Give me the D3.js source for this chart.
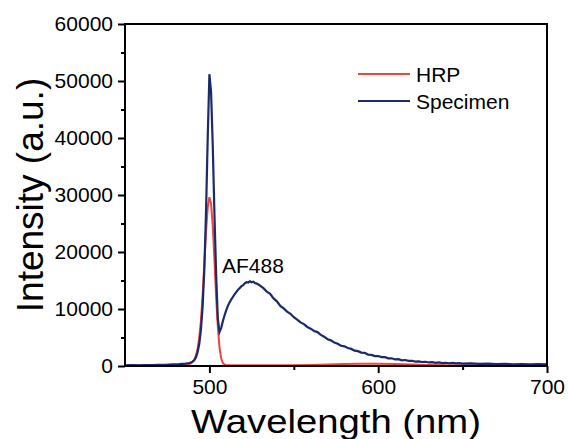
<!DOCTYPE html>
<html>
<head>
<meta charset="utf-8">
<script src="https://cdn.jsdelivr.net/npm/d3@7"></script>
<style>
  body { margin: 0; background: #fff; }
  text { font-family: "Liberation Sans", Arial, sans-serif; fill: #000; }
</style>
</head>
<body>
<div id="chart"></div>
<script>
// wavelength (nm) and intensity (a.u.)
var specWl = [450, 454, 458, 462, 466, 470, 474, 478, 482, 486,
  488, 489, 490, 491, 492, 493, 494, 495, 496, 497, 498, 499, 500, 501, 502, 503, 504, 505, 506, 507, 508, 509,
  510, 511, 512, 513, 514, 515, 516, 517, 518, 519, 520, 521, 522, 523, 524, 525, 526, 527, 528, 529, 530,
  532, 534, 536, 538, 540, 542, 544, 546, 548, 550, 552, 554, 556, 558, 560, 562, 564, 566, 568, 570,
  572, 574, 576, 578, 580, 582, 584, 586, 588, 590, 592, 594, 596, 598, 600, 602, 604, 606, 608, 610,
  612, 614, 616, 618, 620, 622, 624, 626, 628, 630, 632, 634, 636, 638, 640, 642, 644, 646, 648, 650,
  655, 660, 665, 670, 675, 680, 685, 690, 695, 700];
var specVal = [120, 150, 130, 160, 170, 200, 220, 270, 330, 430,
  520, 620, 760, 1000, 1500, 2400, 3900, 6400, 10500, 17000, 27000, 40000, 51200, 48000, 38500, 26500, 16000, 8200, 6000, 6700, 7900, 8900,
  9800, 10600, 11200, 11700, 12150, 12600, 13000, 13400, 13700, 14000, 14200, 14500, 14700, 14650, 14850, 14700, 14800, 14550, 14450, 14300, 14100,
  13650, 13050, 12650, 11850, 11350, 10550, 10100, 9550, 9150, 8550, 8150, 7650, 7350, 6850, 6550, 6150, 5950, 5450, 5150, 4700,
  4500, 4100, 3900, 3550, 3450, 3150, 3000, 2700, 2600, 2350, 2300, 2000, 1950, 1750, 1750, 1550, 1550, 1350, 1350, 1150,
  1200, 1000, 1050, 900, 920, 780, 820, 700, 740, 620, 680, 560, 620, 520, 570, 480, 540, 450, 500, 430,
  470, 380, 420, 340, 380, 310, 350, 290, 330, 280];

var hrpWl = [450, 460, 470, 480, 486, 488, 489, 490, 491, 492, 493, 494, 495, 496, 497, 498, 499, 500,
  501, 502, 503, 504, 505, 506, 507, 508, 509, 510, 515, 520, 530, 540, 550, 560, 570, 580, 590, 600,
  610, 620, 630, 640, 650, 660, 680, 700];
var hrpVal = [80, 90, 100, 120, 200, 300, 450, 700, 1100, 1800, 3000, 5000, 8000, 12500, 18000, 23500, 27800, 29600,
  28500, 24500, 18500, 12000, 6800, 3200, 1300, 500, 250, 170, 130, 120, 110, 120, 130, 180, 250, 330, 380, 380,
  330, 260, 180, 130, 100, 90, 80, 80];

var xMajor = [500, 600, 700];
var xMinor = [550, 650];
var yMajor = [0, 10000, 20000, 30000, 40000, 50000, 60000];
var yMinor = [5000, 15000, 25000, 35000, 45000, 55000];

var seriesNames = ["HRP", "Specimen"];
var seriesColors = ["#f2443c", "#1b2a68"];

var width = 568, height = 439;
var margin = {top: 24, right: 21, bottom: 73, left: 125};

var svg = d3.select("#chart").append("svg")
    .attr("width", width)
    .attr("height", height);

var x = d3.scaleLinear().domain([450, 700]).range([margin.left, width - margin.right]);
var y = d3.scaleLinear().domain([0, 60000]).range([height - margin.bottom, margin.top]);

// lines (HRP under specimen)
var line = d3.line()
    .x(function(d) { return x(d[0]); })
    .y(function(d) { return y(d[1]); });

var hrpData = hrpWl.map(function(w, i) { return [w, hrpVal[i]]; });
var specData = specWl.map(function(w, i) { return [w, specVal[i]]; });

svg.append("path")
    .datum(hrpData)
    .attr("d", line)
    .attr("fill", "none")
    .attr("stroke", seriesColors[0])
    .attr("stroke-width", 2);

svg.append("path")
    .datum(specData)
    .attr("d", line)
    .attr("fill", "none")
    .attr("stroke", seriesColors[1])
    .attr("stroke-width", 2.2);

// axes
var xAxis = svg.append("g")
    .attr("transform", "translate(0," + y(0) + ")")
    .call(d3.axisBottom(x).tickValues(xMajor).tickSize(7).tickSizeOuter(0).tickPadding(6)
        .tickFormat(d3.format("d")));
var xAxisMinor = svg.append("g")
    .attr("transform", "translate(0," + y(0) + ")")
    .call(d3.axisBottom(x).tickValues(xMinor).tickSize(4).tickSizeOuter(0).tickFormat(""));

var yAxis = svg.append("g")
    .attr("transform", "translate(" + x(450) + ",0)")
    .call(d3.axisLeft(y).tickValues(yMajor).tickSize(7).tickSizeOuter(0).tickPadding(5)
        .tickFormat(d3.format("d")));
var yAxisMinor = svg.append("g")
    .attr("transform", "translate(" + x(450) + ",0)")
    .call(d3.axisLeft(y).tickValues(yMinor).tickSize(4).tickSizeOuter(0).tickFormat(""));

[xAxis, xAxisMinor, yAxis, yAxisMinor].forEach(function(g) {
    g.select(".domain").remove();
    g.selectAll(".tick line").attr("stroke", "#000").attr("stroke-width", 2);
    g.selectAll(".tick text")
        .style("font-size", "21px")
        .style("font-family", "'Liberation Sans', Arial, sans-serif")
        .attr("fill", "#000");
});

// frame
svg.append("rect")
    .attr("x", x(450))
    .attr("y", y(60000))
    .attr("width", x(700) - x(450))
    .attr("height", y(0) - y(60000))
    .attr("fill", "none")
    .attr("stroke", "#000")
    .attr("stroke-width", 2);

// axis titles
svg.append("text")
    .attr("x", (x(450) + x(700)) / 2)
    .attr("y", 433)
    .attr("text-anchor", "middle")
    .attr("textLength", 290)
    .attr("lengthAdjust", "spacingAndGlyphs")
    .style("font-size", "34px")
    .text("Wavelength (nm)");

svg.append("text")
    .attr("transform", "translate(43," + (y(0) + y(60000)) / 2 + ") rotate(-90)")
    .attr("text-anchor", "middle")
    .style("font-size", "37px")
    .text("Intensity (a.u.)");

// peak label
svg.append("text")
    .attr("x", 222)
    .attr("y", 273)
    .style("font-size", "21px")
    .text("AF488");

// legend
var legend = svg.append("g").attr("class", "legend");
seriesNames.forEach(function(name, i) {
    var ly = 74 + i * 27;
    legend.append("line")
        .attr("x1", 358).attr("x2", 410)
        .attr("y1", ly).attr("y2", ly)
        .attr("stroke", seriesColors[i])
        .attr("stroke-width", 2);
    legend.append("text")
        .attr("x", 416)
        .attr("y", ly + 8)
        .style("font-size", "21px")
        .text(name);
});
</script>
</body>
</html>
